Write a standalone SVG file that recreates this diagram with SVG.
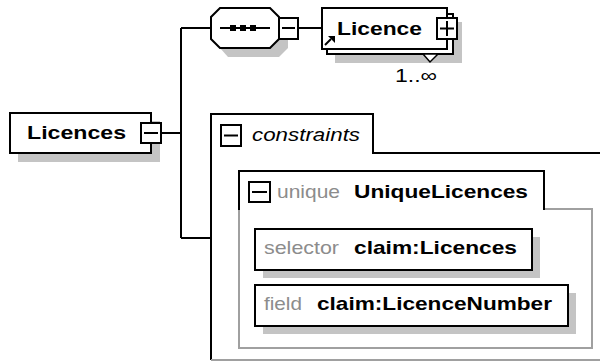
<svg xmlns="http://www.w3.org/2000/svg" width="600" height="361" viewBox="0 0 600 361">
<style>
.box{fill:#fff;stroke:#000;stroke-width:2}
.shadow{fill:#c4c4c4;stroke:none}
.ln{fill:none;stroke:#000;stroke-width:2}
.gl{fill:none;stroke:#a0a0a0;stroke-width:2}
.btn{fill:#fff;stroke:#000;stroke-width:2}
.t{font-family:"Liberation Sans",Arial,sans-serif;font-size:19px;fill:#000}
.b{font-weight:bold}
.g{fill:#8c8c8c}
.i{font-style:italic}
</style>
<rect width="600" height="361" fill="#fff"/>
<g id="connectors">
<path class="ln" d="M161,133H181M181,28V238M181,28H211M181,238H211M298,28H322"/>
</g>
<g id="Licences">
<rect class="shadow" x="18" y="121" width="142" height="41"/>
<rect class="box" x="10" y="113" width="141" height="40"/>
<text class="t b" x="27" y="139" font-size="20" textLength="99" lengthAdjust="spacingAndGlyphs">Licences</text>
<rect class="btn" x="141" y="123" width="20" height="20"/>
<path class="ln" d="M144,133H158"/>
</g>
<g id="sequence">
<polygon class="shadow" points="228,17 278,17 288,26 288,48 279,57 228,57 220,48 220,26"/>
<polygon class="box" points="220,8 270,8 279,17 279,39 270,48 220,48 211,39 211,17"/>
<path class="ln" d="M220,28H270"/>
<rect x="230" y="25" width="6" height="6" fill="#000"/>
<rect x="240" y="25" width="6" height="6" fill="#000"/>
<rect x="250" y="25" width="6" height="6" fill="#000"/>
<rect class="btn" x="279" y="18" width="19" height="21"/>
<path class="ln" d="M282,28H295"/>
</g>
<g id="Licence">
<rect class="shadow" x="335" y="22" width="127" height="41"/>
<rect class="box" x="327" y="14" width="126" height="40"/>
<rect class="box" x="322" y="8" width="125" height="41"/>
<polygon points="423,54 438,54 430,62" fill="#fff" stroke="#000" stroke-width="1.5"/>
<text class="t b" x="337" y="35" font-size="20" textLength="85" lengthAdjust="spacingAndGlyphs">Licence</text>
<path class="ln" d="M325,45L331,39"/>
<polygon points="335,36 328,36 335,43" fill="#000"/>
<rect class="btn" x="437" y="18" width="20" height="21"/>
<path class="ln" d="M440,28.5H454M447,21V36"/>
<text class="t" x="395" y="82" font-size="15" textLength="42" lengthAdjust="spacingAndGlyphs">1..∞</text>
</g>
<g id="constraints">
<path class="ln" d="M211,360V114H373V153H601"/>
<path class="gl" d="M211,360H601"/>
<rect class="btn" x="221" y="125" width="20" height="21"/>
<path class="ln" d="M224,135.5H238"/>
<text class="t i" x="252" y="141" textLength="108" lengthAdjust="spacingAndGlyphs">constraints</text>
</g>
<g id="UniqueLicences">
<path class="gl" d="M544,209H592V348H239V209"/>
<path class="ln" d="M239,210V171H544V210"/>
<rect class="btn" x="249" y="182" width="21" height="20"/>
<path class="ln" d="M252,192H267"/>
<text class="t g" x="277" y="198" textLength="63" lengthAdjust="spacingAndGlyphs">unique</text>
<text class="t b" x="354" y="198" textLength="174" lengthAdjust="spacingAndGlyphs">UniqueLicences</text>
</g>
<g id="selector">
<rect class="shadow" x="263" y="237" width="277" height="41"/>
<rect class="box" x="255" y="229" width="277" height="41"/>
<text class="t g" x="264" y="254" textLength="75" lengthAdjust="spacingAndGlyphs">selector</text>
<text class="t b" x="354" y="254" textLength="163" lengthAdjust="spacingAndGlyphs">claim:Licences</text>
</g>
<g id="field">
<rect class="shadow" x="263" y="293" width="313" height="41"/>
<rect class="box" x="255" y="285" width="313" height="41"/>
<text class="t g" x="264" y="310" textLength="38" lengthAdjust="spacingAndGlyphs">field</text>
<text class="t b" x="317" y="310" textLength="235" lengthAdjust="spacingAndGlyphs">claim:LicenceNumber</text>
</g>
</svg>
